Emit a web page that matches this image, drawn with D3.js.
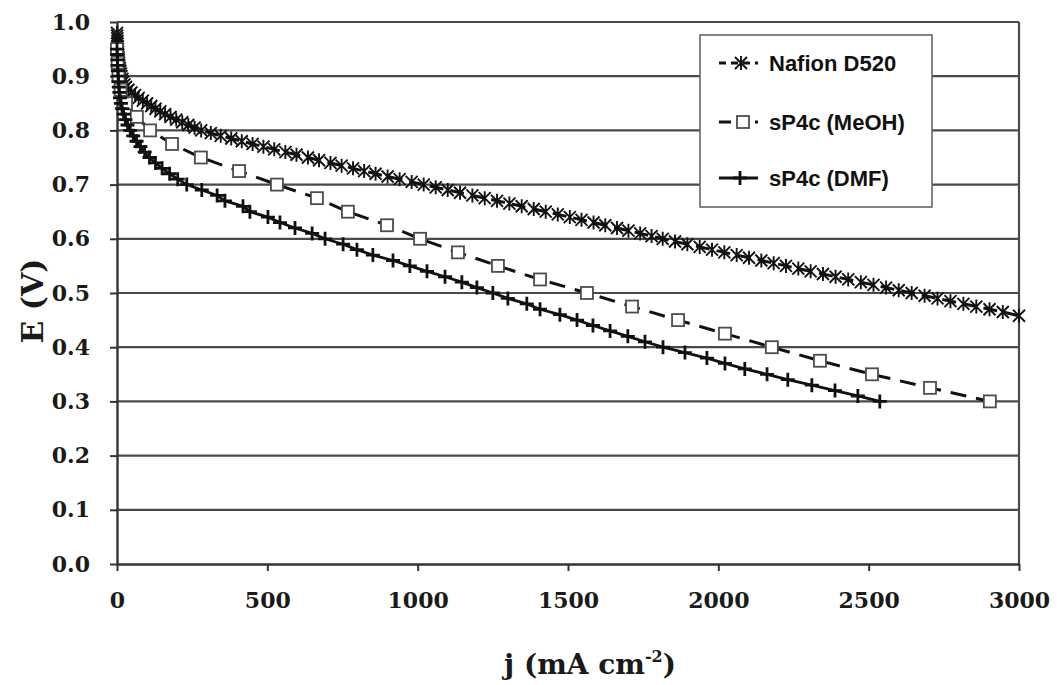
<!DOCTYPE html>
<html lang="en">
<head>
  <meta charset="utf-8">
  <title>Polarisation curves</title>
  <script src="https://d3js.org/d3.v7.min.js"></script>
  <style>
    body {
      margin: 0;
      background: #fff;
    }
  </style>
</head>
<body>
  <div id="chart"></div>

<script>
  // ---- data ----
  var nafionJ = [0, 0.5, 1, 1.5, 2, 2.5, 3, 3.5, 4, 5, 6, 7, 8, 9.5, 11, 13, 15, 18, 21, 25,
    30, 38, 48, 60, 72, 86, 100, 114, 128, 144, 160, 178, 197, 217, 237, 258, 280, 312, 345, 380,
    415, 451, 487, 523, 560, 597, 635, 672, 710, 747, 785, 822, 860, 900, 940, 980, 1020, 1060, 1100, 1141,
    1182, 1223, 1264, 1305, 1346, 1386, 1426, 1466, 1506, 1545, 1585, 1624, 1663, 1701, 1740, 1778, 1815, 1856, 1897, 1938,
    1979, 2020, 2061, 2102, 2143, 2184, 2225, 2266, 2307, 2348, 2390, 2432, 2474, 2516, 2558, 2600, 2643, 2686, 2729, 2772,
    2815, 2858, 2902, 2946, 3000];
  var nafionE = [0.980, 0.975, 0.970, 0.965, 0.960, 0.955, 0.950, 0.945, 0.940, 0.935, 0.930, 0.925, 0.920, 0.915, 0.910, 0.905, 0.900, 0.895, 0.890, 0.885,
    0.880, 0.875, 0.870, 0.865, 0.860, 0.855, 0.850, 0.845, 0.840, 0.835, 0.830, 0.825, 0.820, 0.815, 0.810, 0.805, 0.800, 0.795, 0.790, 0.785,
    0.780, 0.775, 0.770, 0.765, 0.760, 0.755, 0.750, 0.745, 0.740, 0.735, 0.730, 0.725, 0.720, 0.715, 0.710, 0.705, 0.700, 0.695, 0.690, 0.685,
    0.680, 0.675, 0.670, 0.665, 0.660, 0.655, 0.650, 0.645, 0.640, 0.635, 0.630, 0.625, 0.620, 0.615, 0.610, 0.605, 0.600, 0.595, 0.590, 0.585,
    0.580, 0.575, 0.570, 0.565, 0.560, 0.555, 0.550, 0.545, 0.540, 0.535, 0.530, 0.525, 0.520, 0.515, 0.510, 0.505, 0.500, 0.495, 0.490, 0.485,
    0.480, 0.475, 0.470, 0.465, 0.458];

  var meohJ = [0, 2, 5, 12, 30, 66, 110, 183, 279, 406, 532, 665, 768, 898, 1008, 1134, 1267, 1407, 1563, 1713,
    1866, 2022, 2178, 2338, 2511, 2704, 2903];
  var meohE = [0.950, 0.925, 0.900, 0.875, 0.850, 0.825, 0.800, 0.775, 0.750, 0.725, 0.700, 0.675, 0.650, 0.625, 0.600, 0.575, 0.550, 0.525, 0.500, 0.475,
    0.450, 0.425, 0.400, 0.375, 0.350, 0.325, 0.300];

  var dmfJ = [0, 1, 1.5, 2, 3, 4, 5, 6, 8, 10, 13, 17, 22, 28, 35, 44, 54, 65, 78, 92,
    108, 128, 150, 175, 202, 232, 282, 333, 359, 419, 442, 502, 542, 592, 649, 692, 752, 798, 851, 918,
    974, 1031, 1091, 1147, 1197, 1250, 1300, 1363, 1407, 1473, 1530, 1583, 1640, 1699, 1756, 1816, 1889, 1962, 2022, 2088,
    2162, 2231, 2311, 2388, 2464, 2537];
  var dmfE = [0.95, 0.94, 0.93, 0.92, 0.91, 0.90, 0.89, 0.88, 0.87, 0.86, 0.85, 0.84, 0.83, 0.82, 0.81, 0.80, 0.79, 0.78, 0.77, 0.76,
    0.75, 0.74, 0.73, 0.72, 0.71, 0.70, 0.69, 0.68, 0.67, 0.66, 0.65, 0.64, 0.63, 0.62, 0.61, 0.60, 0.59, 0.58, 0.57, 0.56,
    0.55, 0.54, 0.53, 0.52, 0.51, 0.50, 0.49, 0.48, 0.47, 0.46, 0.45, 0.44, 0.43, 0.42, 0.41, 0.40, 0.39, 0.38, 0.37, 0.36,
    0.35, 0.34, 0.33, 0.32, 0.31, 0.30];

  var xTicks = [0, 500, 1000, 1500, 2000, 2500, 3000];
  var yTicks = [0, 0.1, 0.2, 0.3, 0.4, 0.5, 0.6, 0.7, 0.8, 0.9, 1.0];
  var seriesNames = ["Nafion D520", "sP4c (MeOH)", "sP4c (DMF)"];

  // ---- layout ----
  var W = 1057, H = 685;
  var margin = { top: 22, right: 38, bottom: 121, left: 117 };
  var plotW = W - margin.left - margin.right,
    plotH = H - margin.top - margin.bottom;

  var serif = "'DejaVu Serif', serif";
  var sans = "'Liberation Sans', Arial, sans-serif";

  var svg = d3.select("#chart")
    .append("svg")
    .attr("width", W)
    .attr("height", H)
    .style("display", "block");

  var g = svg.append("g")
    .attr("transform", "translate(" + margin.left + "," + margin.top + ")");

  var x = d3.scaleLinear().domain([0, 3000]).range([0, plotW]);
  var y = d3.scaleLinear().domain([0, 1]).range([plotH, 0]);

  // horizontal gridlines
  g.append("g")
    .selectAll("line")
    .data(yTicks.slice(1))
    .enter()
    .append("line")
    .attr("x1", 0)
    .attr("x2", plotW)
    .attr("y1", function(d) { return y(d); })
    .attr("y2", function(d) { return y(d); })
    .attr("stroke", "#4a4a4a")
    .attr("stroke-width", 2.2);

  // right border of the plot area
  g.append("line")
    .attr("x1", plotW).attr("x2", plotW)
    .attr("y1", 0).attr("y2", plotH)
    .attr("stroke", "#4a4a4a")
    .attr("stroke-width", 2.2);

  // X axis
  var xAxis = g.append("g")
    .attr("transform", "translate(0," + plotH + ")")
    .call(d3.axisBottom(x).tickValues(xTicks).tickFormat(d3.format("d")).tickSize(7).tickSizeOuter(0).tickPadding(21));

  // Y axis
  var yAxis = g.append("g")
    .call(d3.axisLeft(y).tickValues(yTicks).tickFormat(d3.format(".1f")).tickSize(7).tickSizeOuter(0).tickPadding(20));

  [xAxis, yAxis].forEach(function(a) {
    a.select(".domain").attr("stroke", "#333").attr("stroke-width", 2.4);
    a.selectAll(".tick line").attr("stroke", "#333").attr("stroke-width", 2);
    a.selectAll(".tick text")
      .attr("fill", "#1a1a1a")
      .style("font-family", serif)
      .style("font-weight", "bold")
      .style("font-size", "22px");
  });

  // ---- series ----
  var line = d3.line()
    .x(function(d) { return x(d[0]); })
    .y(function(d) { return y(d[1]); });

  var nafion = d3.zip(nafionJ, nafionE);
  var meoh = d3.zip(meohJ, meohE);
  var dmf = d3.zip(dmfJ, dmfE);

  var starPath = "M-6,-6L6,6M-6,6L6,-6M0,-7L0,7";
  var plusPath = "M-7,0L7,0M0,-7L0,7";

  g.append("path")
    .datum(nafion)
    .attr("d", line)
    .attr("fill", "none")
    .attr("stroke", "#111")
    .attr("stroke-width", 3)
    .attr("stroke-dasharray", "14,7");

  g.append("path")
    .datum(meoh)
    .attr("d", line)
    .attr("fill", "none")
    .attr("stroke", "#111")
    .attr("stroke-width", 3)
    .attr("stroke-dasharray", "16,10");

  g.append("path")
    .datum(dmf)
    .attr("d", line)
    .attr("fill", "none")
    .attr("stroke", "#111")
    .attr("stroke-width", 2.8);

  g.append("g")
    .selectAll("path")
    .data(nafion)
    .enter()
    .append("path")
    .attr("transform", function(d) { return "translate(" + x(d[0]) + "," + y(d[1]) + ")"; })
    .attr("d", starPath)
    .attr("stroke", "#111")
    .attr("stroke-width", 1.9)
    .attr("fill", "none");

  g.append("g")
    .selectAll("rect")
    .data(meoh)
    .enter()
    .append("rect")
    .attr("x", function(d) { return x(d[0]) - 6; })
    .attr("y", function(d) { return y(d[1]) - 6; })
    .attr("width", 12)
    .attr("height", 12)
    .attr("fill", "#fff")
    .attr("stroke", "#4d4d4d")
    .attr("stroke-width", 1.8);

  g.append("g")
    .selectAll("path")
    .data(dmf)
    .enter()
    .append("path")
    .attr("transform", function(d) { return "translate(" + x(d[0]) + "," + y(d[1]) + ")"; })
    .attr("d", plusPath)
    .attr("stroke", "#111")
    .attr("stroke-width", 2.8)
    .attr("fill", "none");

  // ---- axis titles ----
  svg.append("text")
    .attr("transform", "translate(43," + 301 + ") rotate(-90)")
    .attr("text-anchor", "middle")
    .attr("fill", "#1a1a1a")
    .style("font-family", serif)
    .style("font-weight", "bold")
    .style("font-size", "30px")
    .text("E (V)");

  var xt = svg.append("text")
    .attr("x", 590)
    .attr("y", 674)
    .attr("text-anchor", "middle")
    .attr("fill", "#1a1a1a")
    .style("font-family", serif)
    .style("font-weight", "bold")
    .style("font-size", "28px");
  xt.append("tspan").text("j (mA cm");
  xt.append("tspan").attr("dy", -12).style("font-size", "16px").text("-2");
  xt.append("tspan").attr("dy", 12).text(")");

  // ---- legend ----
  var legend = svg.append("g").attr("transform", "translate(700,35)");
  legend.append("rect")
    .attr("width", 232)
    .attr("height", 172)
    .attr("fill", "#fff")
    .attr("stroke", "#666")
    .attr("stroke-width", 1.6);

  var rowY = [28, 87, 143];
  var dashes = ["7,5", "12,6", null];

  var rows = legend.selectAll(".row")
    .data(seriesNames)
    .enter()
    .append("g")
    .attr("class", "row")
    .attr("transform", function(d, i) { return "translate(0," + rowY[i] + ")"; });

  rows.append("line")
    .attr("x1", 19).attr("x2", 58)
    .attr("stroke", "#111")
    .attr("stroke-width", 3)
    .attr("stroke-dasharray", function(d, i) { return dashes[i]; });

  rows.each(function(d, i) {
    var r = d3.select(this);
    if (i === 0) {
      r.append("path").attr("transform", "translate(41,0)").attr("d", starPath)
        .attr("stroke", "#111").attr("stroke-width", 1.9).attr("fill", "none");
    } else if (i === 1) {
      r.append("rect").attr("x", 37).attr("y", -6).attr("width", 12).attr("height", 12)
        .attr("fill", "#fff").attr("stroke", "#4d4d4d").attr("stroke-width", 1.8);
    } else {
      r.append("path").attr("transform", "translate(40,0)").attr("d", plusPath)
        .attr("stroke", "#111").attr("stroke-width", 2.8).attr("fill", "none");
    }
  });

  rows.append("text")
    .attr("x", 69)
    .attr("y", 8)
    .attr("fill", "#111")
    .style("font-family", sans)
    .style("font-weight", "bold")
    .style("font-size", "22px")
    .text(function(d) { return d; });
</script>
</body>
</html>
